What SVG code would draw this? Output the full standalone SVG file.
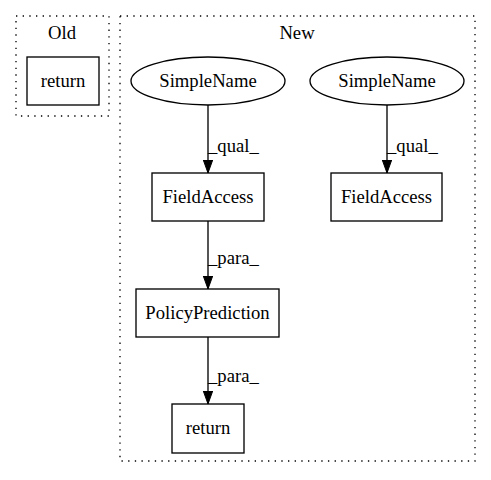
<svg xmlns="http://www.w3.org/2000/svg" width="491" height="480" viewBox="0 0 491 480">
<defs>
<marker id="arr" markerWidth="14" markerHeight="12" refX="13" refY="5" orient="auto" markerUnits="userSpaceOnUse">
<path d="M0,0.3 L13,5 L0,9.7 Z" fill="#000" stroke="#000" stroke-width="1"/>
</marker>
</defs>
<style>
text{font-family:"Liberation Serif","Times New Roman",serif;font-size:18.67px;fill:#000}
.c{text-anchor:middle}
.cl{fill:none;stroke:#000;stroke-width:1.33;stroke-dasharray:1.33,5.33}
.n{fill:#fff;stroke:#000;stroke-width:1.33}
.e{fill:none;stroke:#000;stroke-width:1.33;marker-end:url(#arr)}
</style>
<rect width="491" height="480" fill="#fff"/>
<g id="cluster_old">
<rect class="cl" x="16" y="16" width="93" height="100"/>
<text class="c" x="62" y="39">Old</text>
</g>
<g id="cluster_new">
<rect class="cl" x="120" y="16" width="355" height="445"/>
<text class="c" x="297" y="39">New</text>
</g>
<g id="edges">
<path class="e" d="M208,105 L208,173"/>
<text x="208" y="152">_qual_</text>
<path class="e" d="M387,105 L387,173"/>
<text x="387" y="152">_qual_</text>
<path class="e" d="M208,221 L208,289"/>
<text x="208" y="264">_para_</text>
<path class="e" d="M208,337 L208,404"/>
<text x="208" y="382">_para_</text>
</g>
<g id="old_return">
<rect class="n" x="27" y="57" width="72" height="48"/>
<text class="c" x="63" y="87">return</text>
</g>
<g id="simplename1">
<ellipse class="n" cx="208" cy="81" rx="77" ry="24"/>
<text class="c" x="208" y="87">SimpleName</text>
</g>
<g id="simplename2">
<ellipse class="n" cx="387" cy="81" rx="77" ry="24"/>
<text class="c" x="387" y="87">SimpleName</text>
</g>
<g id="fieldaccess1">
<rect class="n" x="152" y="173" width="112" height="48"/>
<text class="c" x="208" y="203">FieldAccess</text>
</g>
<g id="fieldaccess2">
<rect class="n" x="331" y="173" width="111" height="48"/>
<text class="c" x="386.5" y="203">FieldAccess</text>
</g>
<g id="policyprediction">
<rect class="n" x="136" y="289" width="143" height="48"/>
<text class="c" x="207.5" y="319">PolicyPrediction</text>
</g>
<g id="new_return">
<rect class="n" x="172" y="404" width="72" height="49"/>
<text class="c" x="208" y="434">return</text>
</g>
</svg>
